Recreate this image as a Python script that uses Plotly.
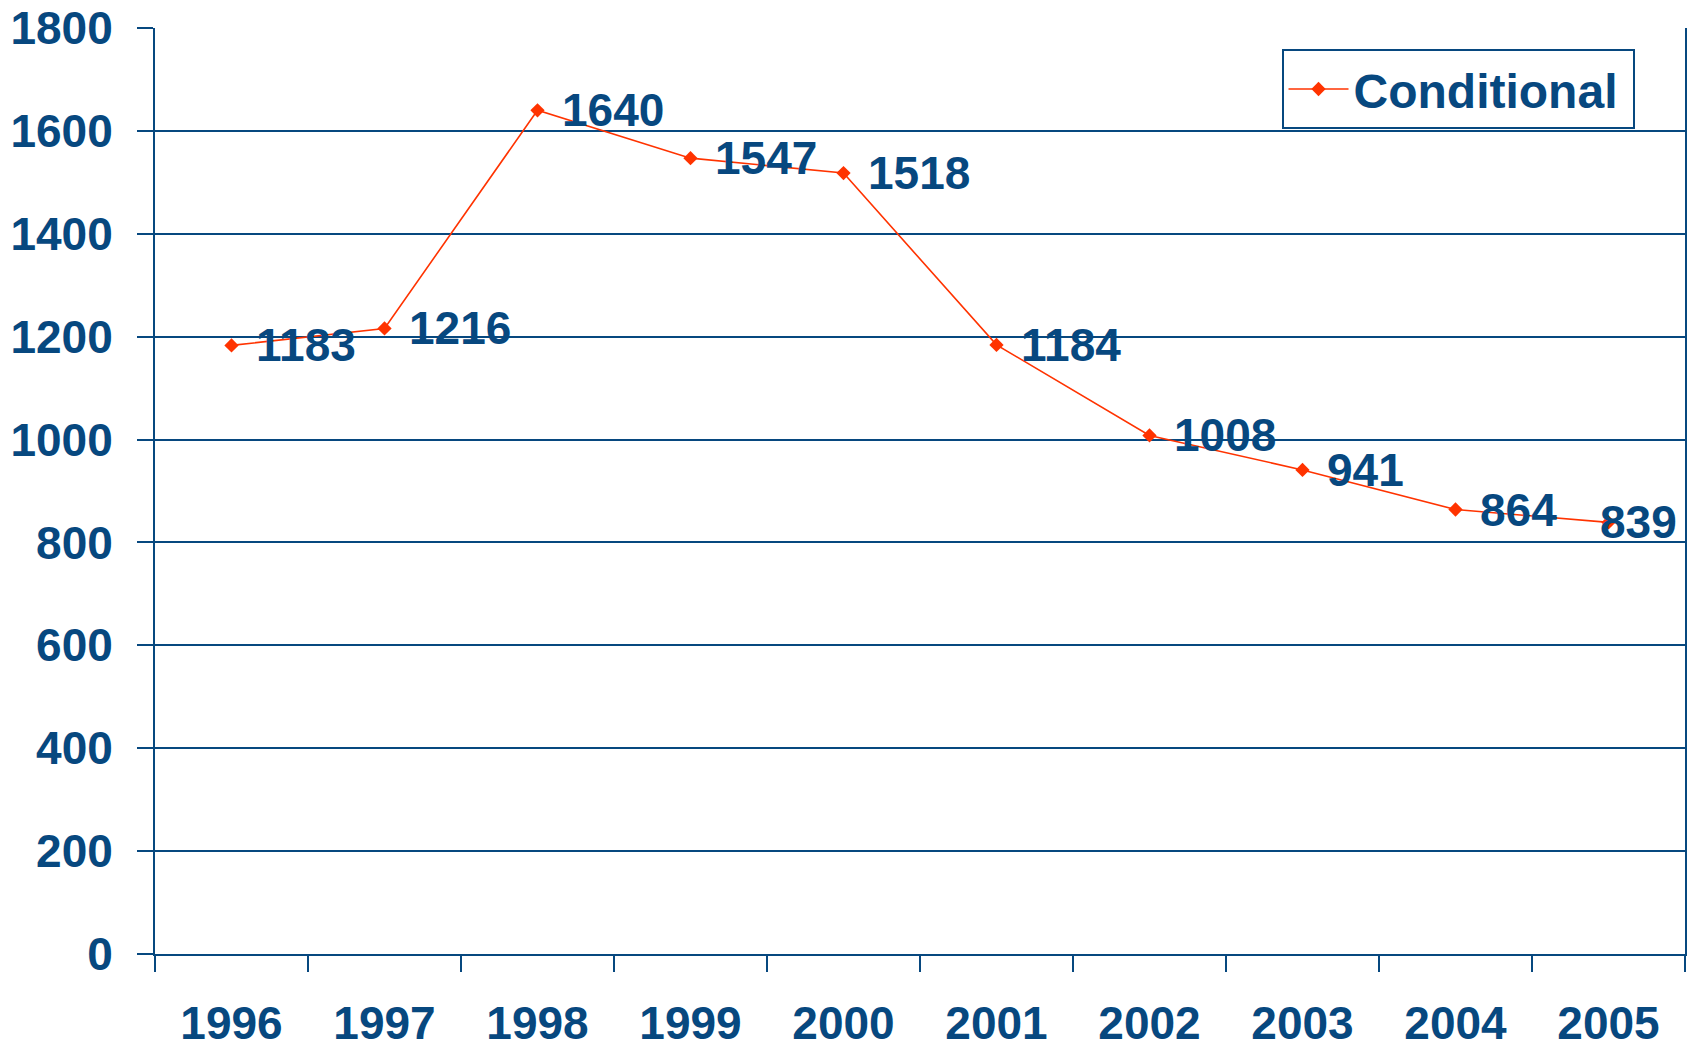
import plotly.graph_objects as go

years = ["1996", "1997", "1998", "1999", "2000", "2001", "2002", "2003", "2004", "2005"]
conditional = [1183, 1216, 1640, 1547, 1518, 1184, 1008, 941, 864, 839]
y_ticks = [0, 200, 400, 600, 800, 1000, 1200, 1400, 1600, 1800]

BLUE = "#07487F"
RED = "#FF3300"
FONT = "Liberation Sans, Arial, sans-serif"

fig = go.Figure()
fig.add_trace(go.Scatter(
    x=years, y=conditional, name="<b>Conditional</b>&#8201;", mode="lines+markers",
    line=dict(color=RED, width=1.6),
    marker=dict(symbol="diamond", size=11, color=RED),
))

for i, v in enumerate(conditional):
    last = i == len(conditional) - 1
    fig.add_annotation(
        x=i, y=v, xref="x", yref="y", text=f"<b>{v}</b>", showarrow=False,
        xanchor="left", yanchor="middle",
        xshift=-11 if last else 22,
        font=dict(family=FONT, size=46, color=BLUE),
    )

fig.update_layout(
    width=1695, height=1049,
    margin=dict(l=155, r=10, t=28, b=95),
    paper_bgcolor="white", plot_bgcolor="white",
    font=dict(family=FONT, color=BLUE),
    showlegend=True,
    legend=dict(
        x=0.967, y=0.977, xanchor="right", yanchor="top",
        bordercolor=BLUE, borderwidth=2, bgcolor="white",
        font=dict(family=FONT, size=48, color=BLUE),
        itemwidth=60,
    ),
    xaxis=dict(
        type="category", range=[-0.5, 9.5], tickson="boundaries",
        tickvals=years, ticktext=[f"<b>{y}</b>" for y in years],
        ticks="outside", ticklen=16, tickwidth=2, tickcolor=BLUE,
        showline=True, linecolor=BLUE, linewidth=2, showgrid=False,
        tickfont=dict(family=FONT, size=46, color=BLUE),
        ticklabelstandoff=28, zeroline=False, automargin=False,
    ),
    yaxis=dict(
        range=[0, 1800], tickvals=y_ticks, ticktext=[f"<b>{t}</b>" for t in y_ticks],
        ticks="outside", ticklen=16, tickwidth=2, tickcolor=BLUE,
        showline=True, linecolor=BLUE, linewidth=2, mirror=True,
        showgrid=True, gridcolor=BLUE, gridwidth=2, zeroline=False,
        tickfont=dict(family=FONT, size=46, color=BLUE),
        ticklabelstandoff=15, automargin=False,
    ),
)

fig.write_html(
    "out.html",
    config={"displayModeBar": False},
    post_script="document.body.style.margin='0';document.body.style.overflow='hidden';",
)
